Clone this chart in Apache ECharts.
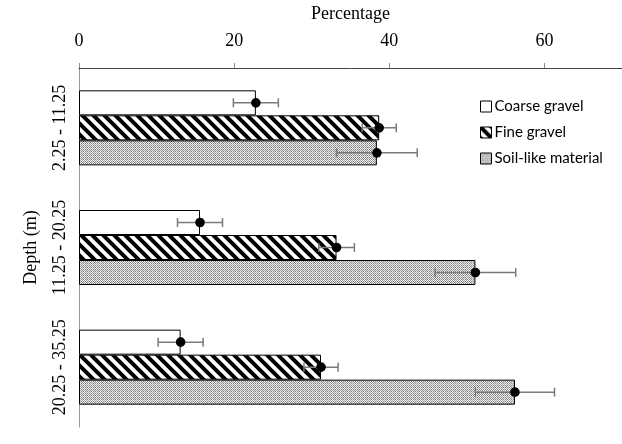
<!DOCTYPE html>
<html>
<head>
<meta charset="utf-8">
<script src="https://cdn.jsdelivr.net/npm/echarts@6/dist/echarts.min.js"></script>
<style>
  html, body { margin: 0; padding: 0; background: #fff; }
  #chart { width: 622px; height: 444px; }
</style>
</head>
<body>
<div id="chart"></div>
<script>
// Depth intervals (top to bottom)
const categories = ['2.25 - 11.25', '11.25 - 20.25', '20.25 - 35.25'];
const seriesNames = ['Coarse gravel', 'Fine gravel', 'Soil-like material'];

// Mean percentage per depth interval
const coarseGravel = [22.8, 15.6, 13.1];
const fineGravel = [38.7, 33.2, 31.2];
const soilLike = [38.4, 51.1, 56.2];

// Error half-widths
const coarseErr = [2.9, 2.9, 2.9];
const fineErr = [2.2, 2.3, 2.2];
const soilErr = [5.2, 5.2, 5.1];

const xTicks = [0, 20, 40, 60];

// ---- fill patterns ----
function stripePattern() {
  const s = 11;
  const c = document.createElement('canvas');
  c.width = s; c.height = s;
  const g = c.getContext('2d');
  g.fillStyle = '#fff';
  g.fillRect(0, 0, s, s);
  g.strokeStyle = '#000';
  g.lineWidth = 4;
  g.beginPath();
  for (let k = -1; k <= 1; k++) {
    g.moveTo(k * s - 2, -2);
    g.lineTo(k * s + s + 2, s + 2);
  }
  g.stroke();
  return c;
}
function dotPattern() {
  const s = 4;
  const c = document.createElement('canvas');
  c.width = s; c.height = s;
  const g = c.getContext('2d');
  g.fillStyle = '#fff';
  g.fillRect(0, 0, s, s);
  for (let y = 0; y < s; y++) {
    for (let x = 0; x < s; x++) {
      if ((x + y) % 2 === 0) {
        g.fillStyle = (x % 4 === 0 || y % 4 === 0) ? '#a8a8a8' : '#7e7e7e';
      } else {
        g.fillStyle = '#efefef';
      }
      g.fillRect(x, y, 1, 1);
    }
  }
  return c;
}

const stripeFill = { image: stripePattern(), repeat: 'repeat' };
const dotFill = { image: dotPattern(), repeat: 'repeat' };

const BAR_W = 25;

function barSeries(name, values, fill) {
  return {
    name: name,
    type: 'bar',
    data: values,
    barWidth: BAR_W,
    barGap: '0%',
    itemStyle: { color: fill, borderColor: '#000', borderWidth: 1 },
    emphasis: { disabled: true },
    z: 2
  };
}

function errorSeries(values, errs, slot) {
  const data = values.map((v, i) => [v, v - errs[i], v + errs[i], i]);
  return {
    type: 'custom',
    data: data,
    encode: { x: [0, 1, 2], y: 3 },
    z: 5,
    silent: true,
    renderItem: function (params, api) {
      const cat = api.value(3);
      const mid = api.coord([api.value(0), cat]);
      const lo = api.coord([api.value(1), cat]);
      const hi = api.coord([api.value(2), cat]);
      const y = mid[1] + (slot - 1) * BAR_W;
      const cap = 4.5;
      const ls = { stroke: '#7a7a7a', lineWidth: 1.5 };
      return {
        type: 'group',
        children: [
          { type: 'line', shape: { x1: lo[0], y1: y, x2: hi[0], y2: y }, style: ls },
          { type: 'line', shape: { x1: lo[0], y1: y - cap, x2: lo[0], y2: y + cap }, style: ls },
          { type: 'line', shape: { x1: hi[0], y1: y - cap, x2: hi[0], y2: y + cap }, style: ls },
          { type: 'circle', shape: { cx: mid[0], cy: y, r: 4.8 }, style: { fill: '#000' } }
        ]
      };
    }
  };
}

const chart = echarts.init(document.getElementById('chart'), null, { renderer: 'canvas' });

chart.setOption({
  animation: false,
  backgroundColor: '#fff',
  grid: { left: 79, top: 67, width: 544, height: 360, containLabel: false },
  legend: {
    orient: 'vertical',
    left: 475,
    top: 94,
    itemWidth: 11,
    itemHeight: 11,
    itemGap: 11,
    selectedMode: false,
    textStyle: { fontFamily: 'Lato', fontSize: 15, color: '#000', padding: [0, 0, 0, -2] },
    data: [
      { name: seriesNames[0], icon: 'rect', itemStyle: { color: '#fff', borderColor: '#000', borderWidth: 1 } },
      { name: seriesNames[1], icon: 'rect', itemStyle: { color: stripeFill, borderColor: '#000', borderWidth: 1 } },
      { name: seriesNames[2], icon: 'rect', itemStyle: { color: dotFill, borderColor: '#000', borderWidth: 1 } }
    ]
  },
  xAxis: {
    type: 'value',
    position: 'top',
    min: 0,
    max: 70,
    interval: 20,
    name: 'Percentage',
    nameLocation: 'middle',
    nameGap: 45,
    nameTextStyle: { fontFamily: 'Liberation Serif', fontSize: 18, color: '#000' },
    axisLine: { show: true, lineStyle: { color: '#444', width: 1 } },
    axisTick: { show: true, length: 5, inside: false, customValues: xTicks, lineStyle: { color: '#888' } },
    axisLabel: { customValues: xTicks, margin: 18, fontFamily: 'Liberation Serif', fontSize: 18, color: '#000' },
    splitLine: { show: false }
  },
  yAxis: {
    type: 'category',
    data: categories,
    inverse: true,
    name: 'Depth (m)',
    nameLocation: 'middle',
    nameRotate: 90,
    nameGap: 39,
    nameTextStyle: { fontFamily: 'Liberation Serif', fontSize: 18, color: '#000' },
    axisLine: { show: true, lineStyle: { color: '#999', width: 1 } },
    axisTick: { show: false },
    axisLabel: { interval: 0, rotate: 90, margin: 10, fontFamily: 'Liberation Serif', fontSize: 18, color: '#000' },
    splitLine: { show: false }
  },
  series: [
    barSeries(seriesNames[0], coarseGravel, '#fff'),
    barSeries(seriesNames[1], fineGravel, stripeFill),
    barSeries(seriesNames[2], soilLike, dotFill),
    errorSeries(coarseGravel, coarseErr, 0),
    errorSeries(fineGravel, fineErr, 1),
    errorSeries(soilLike, soilErr, 2)
  ]
});
</script>
</body>
</html>
